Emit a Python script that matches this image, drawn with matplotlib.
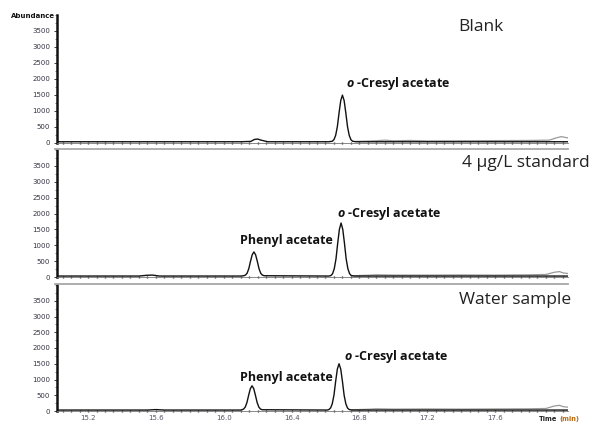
import matplotlib
matplotlib.use("Agg")
import matplotlib.pyplot as plt
from matplotlib.ticker import MultipleLocator, FixedLocator
from matplotlib.lines import Line2D

# ---------------- data ----------------
panel_titles = ["Blank", "4 µg/L standard", "Water sample"]
y_ticks = [0, 500, 1000, 1500, 2000, 2500, 3000, 3500]
x_ticks = [15.2, 15.6, 16.0, 16.4, 16.8, 17.2, 17.6]
x_tick_labels = ["15.2", "15.6", "16.0", "16.4", "16.8", "17.2", "17.6"]

# Blank: main (black) trace
blank_t = [15.02, 15.60, 16.10, 16.16, 16.18, 16.20, 16.22, 16.26, 16.62,
           16.64, 16.65, 16.66, 16.67, 16.68, 16.69, 16.70, 16.71, 16.72,
           16.73, 16.74, 16.75, 16.76, 16.78, 18.03]
blank_y = [30, 30, 30, 40, 100, 115, 80, 30, 30,
           45, 95, 230, 500, 930, 1320, 1490, 1320, 930,
           500, 230, 95, 45, 30, 30]
# Blank: background (grey) trace
blank_bg_t = [16.78, 16.90, 16.95, 17.00, 17.10, 17.20, 17.40, 17.60, 17.80, 17.92, 17.96, 17.99, 18.01, 18.03]
blank_bg_y = [40, 60, 80, 60, 70, 55, 60, 65, 70, 80, 150, 190, 170, 150]

# Standard 4 µg/L
std_t = [15.02, 15.50, 15.55, 15.58, 15.62, 16.10, 16.118, 16.128, 16.138, 16.148, 16.158,
         16.168, 16.178, 16.188, 16.198, 16.208, 16.218, 16.228, 16.238, 16.62,
         16.632, 16.642, 16.652, 16.662, 16.672, 16.682, 16.692, 16.702, 16.712,
         16.722, 16.732, 16.742, 16.752, 16.77, 18.03]
std_y = [30, 30, 55, 60, 30, 30, 40, 60, 120, 265, 495,
         700, 790, 700, 495, 265, 120, 60, 40, 30,
         45, 105, 265, 570, 1060, 1500, 1700, 1500, 1060,
         570, 265, 105, 45, 30, 30]
std_bg_t = [16.76, 16.85, 16.90, 17.00, 17.20, 17.40, 17.60, 17.80, 17.90, 17.95, 17.98, 18.00, 18.03]
std_bg_y = [40, 55, 70, 60, 60, 65, 60, 70, 80, 150, 170, 130, 110]

# Water sample
water_t = [15.02, 15.55, 15.60, 15.65, 16.10, 16.107, 16.117, 16.127, 16.137, 16.147,
           16.157, 16.167, 16.177, 16.187, 16.197, 16.207, 16.217, 16.227, 16.61,
           16.62, 16.63, 16.64, 16.65, 16.66, 16.67, 16.68, 16.69, 16.70,
           16.71, 16.72, 16.73, 16.74, 16.76, 18.03]
water_y = [30, 30, 45, 30, 30, 40, 60, 125, 270, 500,
           710, 800, 710, 500, 270, 125, 60, 40, 30,
           45, 95, 230, 500, 940, 1330, 1500, 1330, 940,
           500, 230, 95, 45, 30, 30]
water_bg_t = [16.76, 16.85, 16.90, 17.00, 17.20, 17.40, 17.60, 17.80, 17.90, 17.95, 17.98, 18.00, 18.03]
water_bg_y = [40, 55, 70, 60, 65, 60, 65, 70, 80, 160, 180, 140, 120]

traces = [(blank_t, blank_y, blank_bg_t, blank_bg_y),
          (std_t, std_y, std_bg_t, std_bg_y),
          (water_t, water_y, water_bg_t, water_bg_y)]

# peak labels: (text, x, y, ha)
peak_labels = [
    [("cresyl", 16.722, 1840, "left")],
    [("phenyl", 16.645, 1140, "right"), ("cresyl", 16.668, 2000, "left")],
    [("phenyl", 16.645, 1070, "right"), ("cresyl", 16.708, 1730, "left")],
]

# ---------------- layout ----------------
W, H = 596, 422
plt.rcParams['mathtext.fontset'] = 'custom'
plt.rcParams['mathtext.it'] = 'Open Sans:italic:bold'
plt.rcParams['mathtext.rm'] = 'Open Sans:bold'

fig = plt.figure(figsize=(W / 100, H / 100), dpi=100)

def fx(px):
    return px / W

def fy(py):
    return 1 - py / H

left_px, right_px = 57, 568
panels_px = [(15, 142.7), (150, 277), (285, 411)]
sep_lines = [148.5, 284]

label_text = {"cresyl": r"$\mathit{o}$ -Cresyl acetate", "phenyl": "Phenyl acetate"}

for i, (top, bot) in enumerate(panels_px):
    ax = fig.add_axes([fx(left_px), fy(bot), fx(right_px - left_px), (bot - top) / H])
    t, y, bt, by = traces[i]
    ax.plot(bt, by, color="#9a9a9a", lw=0.9)
    ax.plot(t, y, color="#111111", lw=1.0)
    ax.set_xlim(15.017, 18.03)
    ax.set_ylim(0, 4000)
    for s in ["top", "right"]:
        ax.spines[s].set_visible(False)
    ax.spines["left"].set_linewidth(1.8)
    ax.spines["left"].set_color("#111111")
    ax.spines["bottom"].set_linewidth(0.6)
    ax.spines["bottom"].set_color("#777777")
    ax.yaxis.set_major_locator(FixedLocator(y_ticks))
    ax.yaxis.set_minor_locator(MultipleLocator(250))
    ax.tick_params(axis="y", which="major", labelsize=5, length=2, width=0.6,
                   colors="#222222", pad=3, labelcolor="#333344")
    ax.tick_params(axis="y", which="minor", length=1.2, width=0.5, colors="#444444")
    ax.xaxis.set_major_locator(FixedLocator(x_ticks))
    ax.xaxis.set_minor_locator(MultipleLocator(0.05))
    ax.tick_params(axis="x", which="both", direction="inout", length=2, width=1.0,
                   colors="#333333")
    if i == 2:
        ax.set_xticklabels(x_tick_labels)
        ax.tick_params(axis="x", which="major", labelsize=5, pad=2, labelcolor="#555566")
    else:
        ax.set_xticklabels([])
    for key, lx, ly, ha in peak_labels[i]:
        ax.text(lx, ly, label_text[key], ha=ha, va="center", fontsize=9,
                fontweight="bold", family="Open Sans", color="#111111")

# panel titles (right aligned)
title_pos = [(504, 27), (590, 163), (571, 300)]
for (px, py), ttl in zip(title_pos, panel_titles):
    fig.text(fx(px), fy(py), ttl, ha="right", va="center", fontsize=12.5,
             family="Open Sans", color="#222222")

# separators
for sy in sep_lines:
    fig.add_artist(Line2D([fx(55), fx(568)], [fy(sy), fy(sy)], color="#a8a8a8", lw=1.3))

fig.text(fx(33), fy(16), "Abundance", ha="center", va="center", fontsize=5,
         fontweight="bold", color="#111111")
t_time = fig.text(fx(539), fy(419), "Time", ha="left", va="center", fontsize=4.8,
                  fontweight="bold", color="#222222")
fig.add_artist(matplotlib.text.Annotation("(min)", xy=(1, 0.5), xycoords=t_time,
                                          xytext=(1.5, 0), textcoords="offset points",
                                          ha="left", va="center", fontsize=4.8,
                                          fontweight="bold", color="#b86a10"))

fig.savefig("out.png", dpi=100)
